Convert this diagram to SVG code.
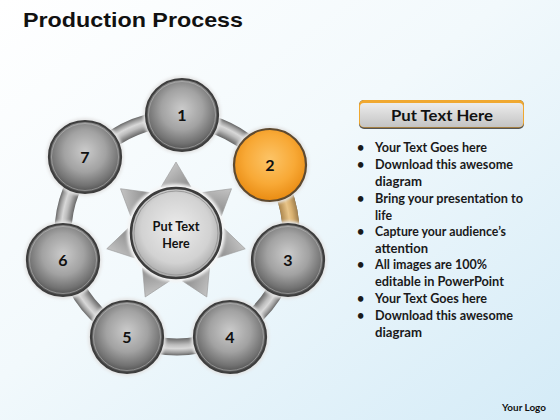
<svg xmlns="http://www.w3.org/2000/svg" width="560" height="420" viewBox="0 0 560 420">
<defs>
<linearGradient id="bg" x1="0" y1="0" x2="1" y2="1">
<stop offset="0" stop-color="#ffffff"/>
<stop offset="0.45" stop-color="#f2f9fc"/>
<stop offset="1" stop-color="#d4ebf7"/>
</linearGradient>
<radialGradient id="sph" cx="50%" cy="42%" r="58%">
<stop offset="0" stop-color="#cbcbcb"/>
<stop offset="0.5" stop-color="#a2a2a2"/>
<stop offset="0.82" stop-color="#727272"/>
<stop offset="1" stop-color="#4c4c4c"/>
</radialGradient>
<radialGradient id="org" cx="50%" cy="42%" r="58%">
<stop offset="0" stop-color="#fcc467"/>
<stop offset="0.6" stop-color="#f8a936"/>
<stop offset="1" stop-color="#e98b12"/>
</radialGradient>
<radialGradient id="ctr" cx="50%" cy="45%" r="55%">
<stop offset="0" stop-color="#ececec"/>
<stop offset="0.7" stop-color="#d2d2d2"/>
<stop offset="1" stop-color="#a8a8a8"/>
</radialGradient>
<radialGradient id="tube" gradientUnits="userSpaceOnUse" cx="177" cy="233" r="123">
<stop offset="0.86" stop-color="#6e6e6e"/>
<stop offset="0.91" stop-color="#bdbdbd"/>
<stop offset="0.94" stop-color="#d8d8d8"/>
<stop offset="0.975" stop-color="#9a9a9a"/>
<stop offset="1" stop-color="#5e5e5e"/>
</radialGradient>
<radialGradient id="tubeO" gradientUnits="userSpaceOnUse" cx="177" cy="233" r="123">
<stop offset="0.86" stop-color="#b08a50"/>
<stop offset="0.92" stop-color="#e8c488"/>
<stop offset="0.95" stop-color="#d8b070"/>
<stop offset="1" stop-color="#9a7a4a"/>
</radialGradient>
<linearGradient id="tri" x1="0" y1="0" x2="1" y2="1">
<stop offset="0" stop-color="#d6d6d6"/>
<stop offset="1" stop-color="#8a8a8a"/>
</linearGradient>
<linearGradient id="hdr" x1="0" y1="0" x2="0" y2="1">
<stop offset="0" stop-color="#ececec"/>
<stop offset="1" stop-color="#c4c4c4"/>
</linearGradient>
<filter id="glow" x="-20%" y="-20%" width="140%" height="140%">
<feGaussianBlur stdDeviation="1.5"/>
</filter>
<g id="tr"><polygon points="0,-71 -15,-46 15,-46" fill="url(#tri)" stroke="#9a9a9a" stroke-width="0.6"/></g>
</defs>
<style>
.num{font-family:"Lato","Liberation Sans",sans-serif;font-weight:bold;font-size:16px;fill:#111;text-anchor:middle}
.halo{fill:#e4e4e4;filter:url(#glow)}
.ball{fill:url(#sph);stroke:#3e3e3e;stroke-width:2.2}
.inner{fill:none;stroke:#c8c8c8;stroke-width:0.8;opacity:0.6}
.bl{font-family:"Lato","Liberation Sans",sans-serif;font-weight:bold;font-size:12.5px;fill:#1a1a1a}
</style>
<rect width="560" height="420" fill="url(#bg)"/>
<text x="23" y="27" font-family="Liberation Sans, Arial, sans-serif" font-weight="bold" font-size="21" fill="#111" textLength="220" lengthAdjust="spacingAndGlyphs">Production Process</text>

<g id="connectors">
<circle cx="177" cy="233" r="114" fill="none" stroke="url(#tube)" stroke-width="17"/>
<path d="M269.5,166.3 A114,114 0 0 1 287.8,260" fill="none" stroke="url(#tubeO)" stroke-width="17"/>
</g>

<g id="center">
<g transform="translate(176,233)">
<use href="#tr" transform="rotate(0)"/>
<use href="#tr" transform="rotate(51.43)"/>
<use href="#tr" transform="rotate(102.86)"/>
<use href="#tr" transform="rotate(154.29)"/>
<use href="#tr" transform="rotate(205.71)"/>
<use href="#tr" transform="rotate(257.14)"/>
<use href="#tr" transform="rotate(308.57)"/>
<circle r="49" fill="#f4f4f4" filter="url(#glow)"/>
<circle r="45" fill="url(#ctr)" stroke="#3c3c3c" stroke-width="2.5"/>
<circle r="42" fill="none" stroke="#9a9a9a" stroke-width="1"/>
</g>
<text x="176" y="231" class="num" style="font-size:12.5px" textLength="47" lengthAdjust="spacingAndGlyphs">Put Text</text>
<text x="176" y="248" class="num" style="font-size:12.5px">Here</text>
</g>

<g id="node1"><circle cx="182" cy="115" r="39" class="halo"/><circle cx="182" cy="115" r="36" class="ball"/><circle cx="182" cy="115" r="33.5" class="inner"/><text x="182" y="121" class="num">1</text></g>
<g id="node2"><circle cx="270" cy="165" r="39" class="halo"/><circle cx="270" cy="165" r="36" fill="url(#org)" stroke="#5e4a30" stroke-width="2.2"/><text x="270" y="171" class="num">2</text></g>
<g id="node3"><circle cx="288" cy="260" r="39" class="halo"/><circle cx="288" cy="260" r="36" class="ball"/><circle cx="288" cy="260" r="33.5" class="inner"/><text x="288" y="266" class="num">3</text></g>
<g id="node4"><circle cx="230" cy="337" r="39" class="halo"/><circle cx="230" cy="337" r="36" class="ball"/><circle cx="230" cy="337" r="33.5" class="inner"/><text x="230" y="343" class="num">4</text></g>
<g id="node5"><circle cx="127" cy="337" r="39" class="halo"/><circle cx="127" cy="337" r="36" class="ball"/><circle cx="127" cy="337" r="33.5" class="inner"/><text x="127" y="343" class="num">5</text></g>
<g id="node6"><circle cx="63" cy="260" r="39" class="halo"/><circle cx="63" cy="260" r="36" class="ball"/><circle cx="63" cy="260" r="33.5" class="inner"/><text x="63" y="266" class="num">6</text></g>
<g id="node7"><circle cx="85" cy="157" r="39" class="halo"/><circle cx="85" cy="157" r="36" class="ball"/><circle cx="85" cy="157" r="33.5" class="inner"/><text x="85" y="163" class="num">7</text></g>

<g id="header">
<rect x="359" y="100" width="165" height="29" rx="5" fill="#555"/>
<rect x="359" y="100" width="165" height="27.5" rx="5" fill="#f0a830"/>
<rect x="360" y="103" width="163" height="24" rx="4" fill="url(#hdr)"/>
<text x="442" y="121" font-family="Lato, Liberation Sans, sans-serif" font-weight="bold" font-size="16" fill="#111" text-anchor="middle" textLength="102" lengthAdjust="spacingAndGlyphs">Put Text Here</text>
</g>

<g id="bullets">
<text x="357" y="152" class="bl">•</text>
<text x="375" y="152" class="bl" textLength="112" lengthAdjust="spacingAndGlyphs">Your Text Goes here</text>
<text x="357" y="169" class="bl">•</text>
<text x="375" y="169" class="bl" textLength="138" lengthAdjust="spacingAndGlyphs">Download this awesome</text>
<text x="375" y="185.5" class="bl" textLength="47" lengthAdjust="spacingAndGlyphs">diagram</text>
<text x="357" y="203" class="bl">•</text>
<text x="375" y="203" class="bl" textLength="148" lengthAdjust="spacingAndGlyphs">Bring your presentation to</text>
<text x="375" y="219.5" class="bl" textLength="17" lengthAdjust="spacingAndGlyphs">life</text>
<text x="357" y="236" class="bl">•</text>
<text x="375" y="236" class="bl" textLength="131" lengthAdjust="spacingAndGlyphs">Capture your audience’s</text>
<text x="375" y="252.5" class="bl" textLength="53" lengthAdjust="spacingAndGlyphs">attention</text>
<text x="357" y="269" class="bl">•</text>
<text x="375" y="269" class="bl" textLength="112" lengthAdjust="spacingAndGlyphs">All images are 100%</text>
<text x="375" y="285.5" class="bl" textLength="129" lengthAdjust="spacingAndGlyphs">editable in PowerPoint</text>
<text x="357" y="303" class="bl">•</text>
<text x="375" y="303" class="bl" textLength="112" lengthAdjust="spacingAndGlyphs">Your Text Goes here</text>
<text x="357" y="320" class="bl">•</text>
<text x="375" y="320" class="bl" textLength="138" lengthAdjust="spacingAndGlyphs">Download this awesome</text>
<text x="375" y="336.5" class="bl" textLength="47" lengthAdjust="spacingAndGlyphs">diagram</text>
</g>

<text x="502" y="411" font-family="Lato, Liberation Sans, sans-serif" font-weight="bold" font-size="9.5" fill="#111" textLength="44" lengthAdjust="spacingAndGlyphs">Your Logo</text>
</svg>
